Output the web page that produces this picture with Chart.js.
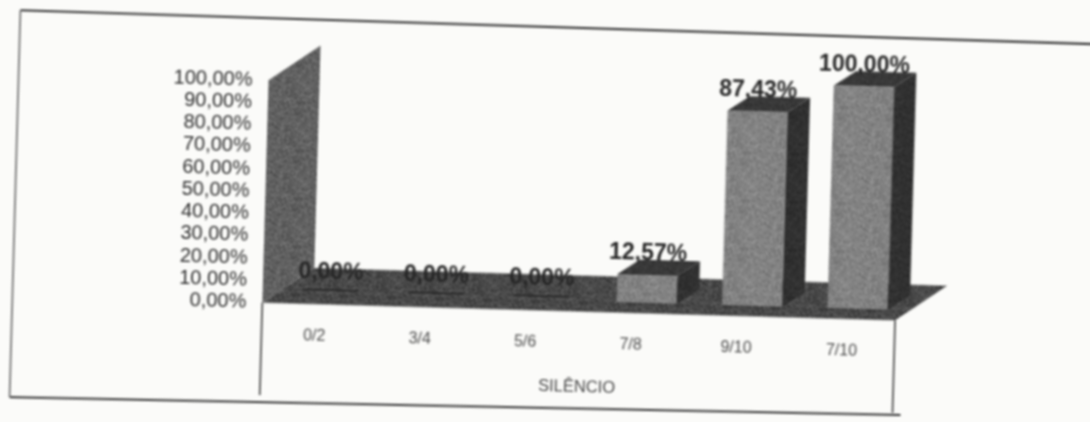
<!DOCTYPE html>
<html>
<head>
<meta charset="utf-8">
<script src="https://cdn.jsdelivr.net/npm/chart.js@4"></script>
<style>
  html, body { margin: 0; padding: 0; width: 1090px; height: 422px; overflow: hidden; background: #fbfbf9; }
  /* the source is a slightly crooked scan */
  #silencioChart { display: block; transform: rotate(1.6deg); filter: blur(0.8px); }
</style>
</head>
<body>
<canvas id="silencioChart" width="1090" height="422"></canvas>
<script>
const categories = ['0/2', '3/4', '5/6', '7/8', '9/10', '7/10'];
const percentValues = [0, 0, 0, 12.57, 87.43, 100];
const axisTitle = 'SILÊNCIO';

const fmt = v => v.toFixed(2).replace('.', ',') + '%';

// photocopy grain for the filled faces
function grain(base, spread) {
  const c = document.createElement('canvas');
  c.width = c.height = 48;
  const g = c.getContext('2d');
  for (let y = 0; y < 48; y++) {
    for (let x = 0; x < 48; x++) {
      const h = Math.sin(x * 12.9898 + y * 78.233) * 43758.5453;
      const v = Math.round(base + (h - Math.floor(h) - 0.5) * spread);
      g.fillStyle = `rgb(${v},${v},${v})`;
      g.fillRect(x, y, 1, 1);
    }
  }
  return c;
}

const box3d = {
  id: 'box3d',
  beforeDatasetsDraw(chart) {
    const { ctx, chartArea: a } = chart;
    const dx = 51, dy = -36;
    ctx.save();
    // side wall
    ctx.fillStyle = ctx.createPattern(grain(96, 60), 'repeat');
    ctx.beginPath();
    ctx.moveTo(a.left, a.top);
    ctx.lineTo(a.left + dx, a.top + dy);
    ctx.lineTo(a.left + dx, a.bottom + dy);
    ctx.lineTo(a.left, a.bottom);
    ctx.closePath();
    ctx.fill();
    // floor
    ctx.fillStyle = ctx.createPattern(grain(72, 60), 'repeat');
    ctx.beginPath();
    ctx.moveTo(a.left, a.bottom);
    ctx.lineTo(a.left + dx, a.bottom + dy);
    ctx.lineTo(a.right + dx, a.bottom + dy);
    ctx.lineTo(a.right, a.bottom);
    ctx.closePath();
    ctx.fill();
    // bars stand a little behind the front edge of the floor
    ctx.translate(15, -10.5);
  },
  afterDatasetsDraw(chart) {
    const { ctx, chartArea: a } = chart;
    const dx = 22, dy = -15;
    ctx.restore();
    ctx.save();
    ctx.translate(15, -10.5);
    const sideFill = ctx.createPattern(grain(48, 30), 'repeat');
    const topFill = ctx.createPattern(grain(56, 30), 'repeat');
    chart.getDatasetMeta(0).data.forEach((bar, i) => {
      const l = bar.x - bar.width / 2, r = bar.x + bar.width / 2;
      if (percentValues[i] > 0) {
        ctx.fillStyle = sideFill;
        ctx.beginPath();
        ctx.moveTo(r, bar.y);
        ctx.lineTo(r + dx, bar.y + dy);
        ctx.lineTo(r + dx, bar.base + dy);
        ctx.lineTo(r, bar.base);
        ctx.closePath();
        ctx.fill();
        ctx.fillStyle = topFill;
        ctx.beginPath();
        ctx.moveTo(l, bar.y);
        ctx.lineTo(l + dx, bar.y + dy);
        ctx.lineTo(r + dx, bar.y + dy);
        ctx.lineTo(r, bar.y);
        ctx.closePath();
        ctx.fill();
      } else {
        ctx.strokeStyle = '#222222';
        ctx.lineWidth = 1.5;
        ctx.beginPath();
        ctx.moveTo(l + 2, bar.base - 4);
        ctx.lineTo(r - 2, bar.base - 4);
        ctx.stroke();
      }
      ctx.fillStyle = '#262626';
      ctx.font = 'bold 23px "Liberation Sans"';
      ctx.textAlign = 'center';
      ctx.textBaseline = 'middle';
      ctx.fillText(fmt(percentValues[i]), bar.x, bar.y - 21);
    });
    ctx.restore();

    // axis drop lines and the table frame from the scan
    ctx.save();
    ctx.strokeStyle = '#333333';
    ctx.lineWidth = 1.5;
    ctx.beginPath();
    ctx.moveTo(a.left, a.bottom);
    ctx.lineTo(a.left, 403);
    ctx.moveTo(a.right, a.bottom);
    ctx.lineTo(a.right, 403);
    ctx.stroke();
    ctx.strokeStyle = '#333333';
    ctx.lineWidth = 2.2;
    ctx.beginPath();
    ctx.moveTo(15, 25);
    ctx.lineTo(1100, 29);
    ctx.moveTo(15, 412);
    ctx.lineTo(906, 405);
    ctx.stroke();
    ctx.strokeStyle = '#777777';
    ctx.lineWidth = 1.8;
    ctx.beginPath();
    ctx.moveTo(15, 25);
    ctx.lineTo(15, 412);
    ctx.stroke();
    ctx.restore();
  }
};

const ctx = document.getElementById('silencioChart').getContext('2d');

new Chart(ctx, {
  type: 'bar',
  data: {
    labels: categories,
    datasets: [{
      data: percentValues,
      backgroundColor: ctx.createPattern(grain(130, 56), 'repeat'),
      barPercentage: 0.57,
      categoryPercentage: 1
    }]
  },
  options: {
    responsive: false,
    animation: false,
    layout: { padding: { top: 88, right: 192, left: 0, bottom: 0 } },
    plugins: { legend: { display: false }, tooltip: { enabled: false } },
    scales: {
      x: {
        grid: { display: false },
        border: { display: false },
        afterFit(s) { s.height = 111.5; },
        ticks: { color: '#4c4c4c', padding: 14, font: { family: 'Liberation Sans', size: 16 } },
        title: {
          display: true,
          text: axisTitle,
          color: '#484848',
          padding: { top: 0, bottom: 26 },
          font: { family: 'Liberation Sans', size: 16.5 }
        }
      },
      y: {
        min: 0,
        max: 100,
        grid: { display: false },
        border: { display: false },
        afterFit(s) { s.width = 265; },
        ticks: {
          stepSize: 10,
          autoSkip: false,
          padding: 8,
          color: '#2e2e2e',
          font: { family: 'Liberation Sans', size: 20 },
          callback: v => fmt(v)
        }
      }
    }
  },
  plugins: [box3d]
});
</script>
</body>
</html>
